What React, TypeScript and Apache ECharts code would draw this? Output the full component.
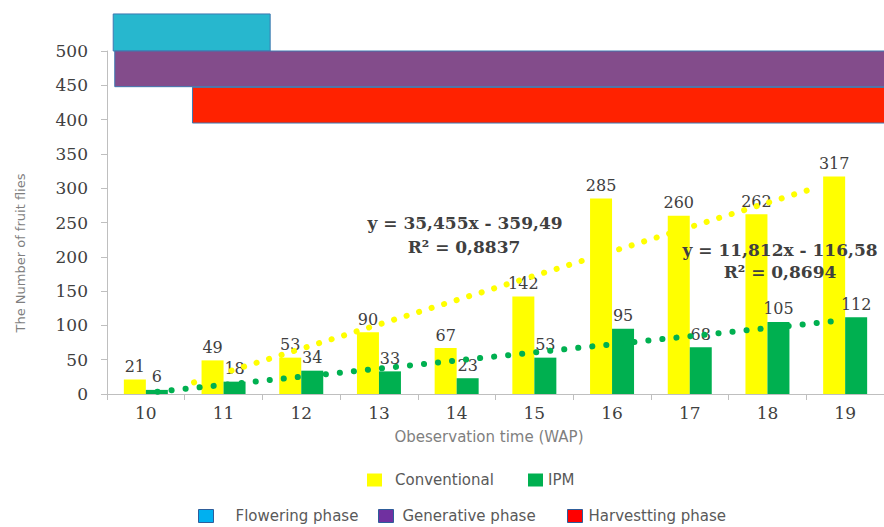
import React, { useEffect, useRef } from "react";
import * as echarts from "echarts";

const weeks = ["10", "11", "12", "13", "14", "15", "16", "17", "18", "19"];
const conventional = [21, 49, 53, 90, 67, 142, 285, 260, 262, 317];
const ipm = [6, 18, 34, 33, 23, 53, 95, 68, 105, 112];

// Trend lines as printed on the chart (x = week), with the visible span
const conventionalTrend = { slope: 35.455, intercept: -359.49, span: [10.62, 18.62] };
const ipmTrend = { slope: 11.812, intercept: -116.58, span: [10.15, 18.95] };
const conventionalEq = ["y = 35,455x - 359,49", "R² = 0,8837"];
const ipmEq = ["y = 11,812x - 116,58", "R² = 0,8694"];

// Phase bars: week span and y span
const phaseNames = ["Flowering phase", "Generative phase", "Harvestting phase"];
const phaseWeekStart = [9.58, 9.6, 10.6];
const phaseWeekEnd = [11.6, 19.8, 19.8];
const phaseLow = [500, 448, 395];
const phaseHigh = [554, 500, 447];
const phaseColors = ["#27B7CE", "#834C8B", "#FF2200"];
const phaseLegendColors = ["#00B0F0", "#7030A0", "#FF0000"];

const SERIF = "'DejaVu Serif', 'Liberation Serif', serif";
const SANS = "'DejaVu Sans', 'Open Sans', sans-serif";

function trendPoints(t: { slope: number; intercept: number; span: number[] }) {
  return t.span.map((x) => [x, t.slope * x + t.intercept]);
}

export default function App() {
  const ref = useRef<HTMLDivElement>(null);
  useEffect(() => {
    if (!ref.current) return;
    const chart = echarts.init(ref.current, null, { renderer: "svg" });

    const phaseSeries = phaseNames.map((name, i) => ({
      name,
      type: "custom",
      xAxisIndex: 1,
      yAxisIndex: 0,
      clip: false,
      z: 1,
      itemStyle: { color: phaseColors[i] },
      encode: { x: [0, 1], y: [2, 3] },
      data: [[phaseWeekStart[i], phaseWeekEnd[i], phaseLow[i], phaseHigh[i]]],
      renderItem: (params: any, api: any) => {
        const p0 = api.coord([api.value(0), api.value(3)]);
        const p1 = api.coord([api.value(1), api.value(2)]);
        return {
          type: "rect",
          shape: { x: p0[0], y: p0[1], width: p1[0] - p0[0], height: p1[1] - p0[1] },
          style: { fill: phaseColors[i], stroke: "#3E78B0", lineWidth: 1 },
        };
      },
    }));

    const labelStyle = {
      show: true,
      position: "top",
      distance: 5,
      fontFamily: SERIF,
      fontSize: 16,
      color: "#404040",
    };

    const legendText = { fontFamily: SANS, fontSize: 15, color: "#595959", lineHeight: 20 };

    const mkLegend = (name: string, left: number, top: number, pad: number, extra?: any) => ({
      data: [extra ? { name, itemStyle: extra } : name],
      left,
      top,
      icon: "rect",
      itemWidth: 15,
      itemHeight: 13,
      selectedMode: false,
      padding: 0,
      textStyle: { ...legendText, padding: [0, 0, 0, pad] },
    });

    const eqStyle = {
      fontFamily: SERIF,
      fontSize: 17,
      fontWeight: "bold",
      fill: "#404040",
      align: "center",
      verticalAlign: "middle",
    };

    const option: any = {
      animation: false,
      backgroundColor: "#ffffff",
      grid: { left: 107, top: 51, width: 780, height: 343, containLabel: false },
      xAxis: [
        {
          type: "category",
          data: weeks,
          boundaryGap: true,
          axisLine: { show: true, lineStyle: { color: "#BFBFBF", width: 1 } },
          axisTick: { show: true, length: 6, lineStyle: { color: "#BFBFBF" } },
          axisLabel: { margin: 10, fontFamily: SERIF, fontSize: 17, color: "#404040" },
          splitLine: { show: false },
        },
        { type: "value", min: 9.5, max: 19.5, show: false },
      ],
      yAxis: {
        type: "value",
        min: 0,
        max: 500,
        interval: 50,
        axisLine: { show: true, lineStyle: { color: "#BFBFBF", width: 1 } },
        axisTick: { show: true, length: 6, lineStyle: { color: "#BFBFBF" } },
        axisLabel: { margin: 19, fontFamily: SERIF, fontSize: 17, color: "#404040" },
        splitLine: { show: false },
      },
      legend: [
        mkLegend("Conventional", 367, 470, 8),
        mkLegend("IPM", 528, 470, 0),
        mkLegend(phaseNames[0], 198, 506, 17, { color: phaseLegendColors[0], borderColor: "#2E5D9A", borderWidth: 1 }),
        mkLegend(phaseNames[1], 378, 506, 4, { color: phaseLegendColors[1], borderColor: "#2E5D9A", borderWidth: 1 }),
        mkLegend(phaseNames[2], 567, 506, 1, { color: phaseLegendColors[2], borderColor: "#2E5D9A", borderWidth: 1 }),
      ],
      series: [
        ...phaseSeries,
        {
          name: "Conventional",
          type: "bar",
          data: conventional,
          barWidth: 22,
          barGap: "0%",
          itemStyle: { color: "#FFFF00" },
          label: labelStyle,
          z: 2,
        },
        {
          name: "IPM",
          type: "bar",
          data: ipm,
          barWidth: 22,
          barGap: "0%",
          itemStyle: { color: "#00B050" },
          label: labelStyle,
          z: 2,
        },
        {
          name: "Conventional trend",
          type: "line",
          xAxisIndex: 1,
          data: trendPoints(conventionalTrend),
          symbol: "none",
          z: 3,
          lineStyle: { color: "#FFFF00", width: 6, type: [0.1, 13], cap: "round" },
        },
        {
          name: "IPM trend",
          type: "line",
          xAxisIndex: 1,
          data: trendPoints(ipmTrend),
          symbol: "none",
          z: 3,
          lineStyle: { color: "#00B050", width: 6, type: [0.1, 14], cap: "round" },
        },
      ],
      graphic: [
        {
          type: "text",
          x: 20,
          y: 253,
          rotation: Math.PI / 2,
          style: {
            text: "The Number of fruit flies",
            fontFamily: SANS,
            fontSize: 13,
            fill: "#7F7F7F",
            align: "center",
            verticalAlign: "middle",
          },
        },
        {
          type: "text",
          x: 489,
          y: 437,
          style: {
            text: "Obeservation time (WAP)",
            fontFamily: SANS,
            fontSize: 15,
            fill: "#7F7F7F",
            align: "center",
            verticalAlign: "middle",
          },
        },
        { type: "text", x: 465, y: 223, z: 10, style: { ...eqStyle, text: conventionalEq[0] } },
        { type: "text", x: 464, y: 247, z: 10, style: { ...eqStyle, text: conventionalEq[1] } },
        { type: "text", x: 780, y: 250, z: 10, style: { ...eqStyle, text: ipmEq[0] } },
        { type: "text", x: 780, y: 272, z: 10, style: { ...eqStyle, text: ipmEq[1] } },
      ],
    };

    chart.setOption(option);
    return () => chart.dispose();
  }, []);

  return (
    <div
      ref={ref}
      style={{ position: "absolute", left: 0, top: 0, width: 884, height: 527 }}
    />
  );
}
